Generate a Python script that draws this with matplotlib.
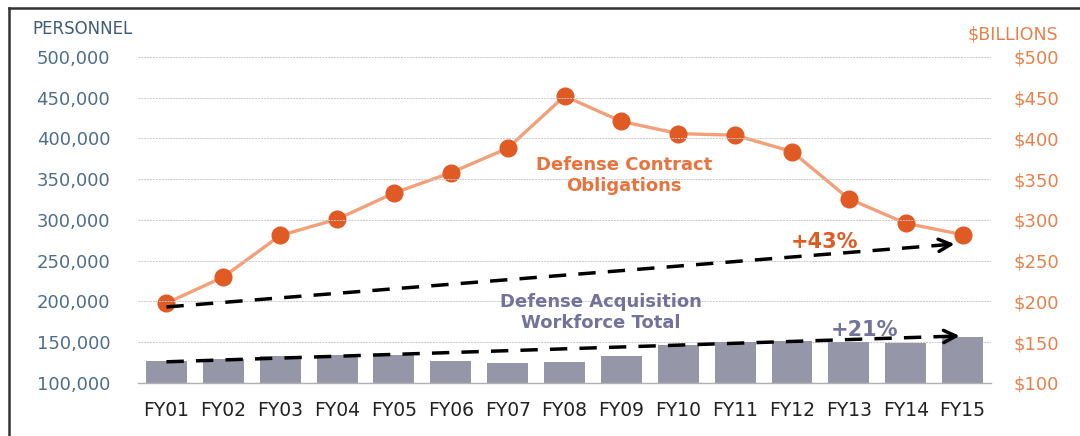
import numpy as np
import matplotlib
matplotlib.use("Agg")
import matplotlib.pyplot as plt
from matplotlib.lines import Line2D

plt.rcParams['font.family'] = ['DejaVu Sans']

years = ["FY01", "FY02", "FY03", "FY04", "FY05", "FY06", "FY07", "FY08",
         "FY09", "FY10", "FY11", "FY12", "FY13", "FY14", "FY15"]
workforce = [127000, 130000, 133000, 134000, 134500, 127500, 125000, 125500,
             133000, 147000, 150500, 151500, 150500, 148500, 156000]
obligations = [198, 230, 281, 301, 333, 358, 388, 452,
               421, 406, 404, 384, 326, 296, 282]

left_ticks = [100000, 150000, 200000, 250000, 300000, 350000, 400000, 450000, 500000]
right_ticks = [100, 150, 200, 250, 300, 350, 400, 450, 500]

# dashed trend arrows (start, end) in personnel units
arrow_top = [(0, 193300), (13.86, 270500)]
arrow_bot = [(0, 126000), (13.95, 157700)]

orange_line = "#F2A07A"
orange_dot = "#E05A24"
orange_txt = "#E8804A"
bar_col = "#9696A9"
blue_txt = "#4D6E8C"
purple_txt = "#72729A"

fig = plt.figure(figsize=(10.8, 4.36), dpi=100)
ax = fig.add_axes([0.1278, 0.1216, 0.7898, 0.7477])
x = np.arange(len(years))

ax.bar(x, workforce, width=0.72, color=bar_col, zorder=2, bottom=0)
ax.set_ylim(100000, 500000)
ax.set_xlim(-0.5, len(years) - 0.5)
ax.set_yticks(left_ticks)
ax.set_yticklabels([f"{v:,}" for v in left_ticks])
ax.set_xticks(x)
ax.set_xticklabels(years)
ax.tick_params(axis='y', length=0, pad=20, labelsize=13, labelcolor=blue_txt)
ax.tick_params(axis='x', length=0, pad=13, labelsize=13.5, labelcolor="#222222")
for t in left_ticks[1:]:
    ax.axhline(t, color="#c8c8c8", lw=0.7, ls=(0, (2, 1)), zorder=1)
for s in ['top', 'left', 'right']:
    ax.spines[s].set_visible(False)
ax.spines['bottom'].set_color("#b0b0b0")
ax.spines['bottom'].set_linewidth(1.0)

ax2 = ax.twinx()
ax2.set_ylim(100, 500)
ax2.set_yticks(right_ticks)
ax2.set_yticklabels([f"${v}" for v in right_ticks])
ax2.tick_params(axis='y', length=0, pad=16, labelsize=13, labelcolor=orange_txt)
for s in ax2.spines.values():
    s.set_visible(False)
ax2.plot(x, obligations, color=orange_line, lw=2.4, zorder=3,
         marker='o', markersize=12, markerfacecolor=orange_dot,
         markeredgecolor=orange_dot)

# trend arrows on the left axis
ax.set_zorder(ax2.get_zorder() + 1)
ax.patch.set_visible(False)
for (x0, y0), (x1, y1) in [arrow_top, arrow_bot]:
    xe = x1 - 0.25
    ye = y0 + (y1 - y0) * (xe - x0) / (x1 - x0)
    ax.plot([x0, xe], [y0, ye], color="black", lw=2.5, ls=(0, (5, 3.5)), zorder=5)
    ax.annotate("", xy=(x1, y1), xytext=(xe, ye),
                arrowprops=dict(arrowstyle="->", lw=2.5, color="black",
                                mutation_scale=22, shrinkA=0, shrinkB=0),
                zorder=5)

ax.text(11.57, 273500, "+43%", color=orange_dot, fontsize=15, fontweight='bold',
        ha='center', va='center', zorder=6)
ax.text(12.28, 165500, "+21%", color=purple_txt, fontsize=15, fontweight='bold',
        ha='center', va='center', zorder=6)
ax.text(8.04, 355000, "Defense Contract\nObligations", color="#E8733D",
        fontsize=13, fontweight='bold', ha='center', va='center', linespacing=1.2)
ax.text(7.64, 186000, "Defense Acquisition\nWorkforce Total", color=purple_txt,
        fontsize=13, fontweight='bold', ha='center', va='center', linespacing=1.2)

fig.text(32 / 1080, 1 - 29 / 436, "PERSONNEL", color="#3E5C78", fontsize=12,
         ha='left', va='center')
fig.text(1058 / 1080, 1 - 35 / 436, "$BILLIONS", color=orange_txt, fontsize=12.5,
         ha='right', va='center')

# frame border (top and left visible)
fig.add_artist(Line2D([9 / 1080, 9 / 1080], [0, 1 - 8 / 436], color="#333333", lw=1.8))
fig.add_artist(Line2D([9 / 1080, 1], [1 - 8 / 436, 1 - 8 / 436], color="#333333", lw=1.8))

fig.savefig("out.png", dpi=100)
